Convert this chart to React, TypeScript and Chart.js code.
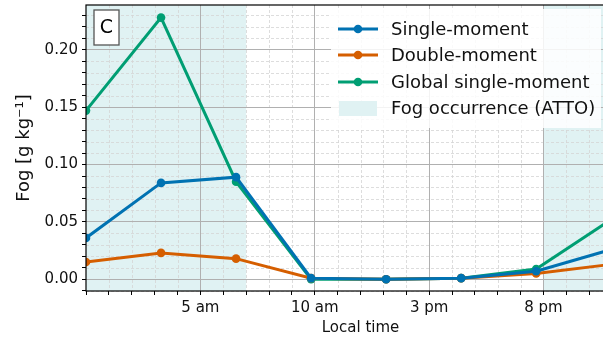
import React, { useEffect, useRef } from 'react';
import { Chart, registerables } from 'chart.js';

Chart.register(...registerables);

// ---- data ----
const hours = [0, 3.28, 6.56, 9.84, 13.12, 16.4, 19.68, 22.96];
const singleMoment = [0.036, 0.084, 0.089, 0.001, 0.0, 0.001, 0.007, 0.026];
const doubleMoment = [0.015, 0.023, 0.018, 0.001, 0.0, 0.001, 0.005, 0.013];
const globalSingleMoment = [0.147, 0.228, 0.085, 0.0, 0.0, 0.001, 0.009, 0.052];
const fogStart = [0, 20];
const fogEnd = [7, 24];
const xTickValues = [5, 10, 15, 20];
const xTickLabels = ['5 am', '10 am', '3 pm', '8 pm'];
const seriesNames = ['Single-moment', 'Double-moment', 'Global single-moment'];
const fogName = 'Fog occurrence (ATTO)';
const panelLabel = 'C';

const COLORS = ['#0072B2', '#D55E00', '#009E73'];
const FOG_COLOR = 'rgb(224, 242, 243)';
const FONT = '"DejaVu Sans", sans-serif';

const decorPlugin = {
  id: 'decor',
  beforeDraw(chart: any) {
    const { ctx, chartArea: a, scales } = chart;
    const x = scales.x;
    const y = scales.y;
    ctx.save();
    ctx.fillStyle = '#ffffff';
    ctx.fillRect(0, 0, chart.width, chart.height);
    // fog shading
    ctx.fillStyle = FOG_COLOR;
    for (let i = 0; i < fogStart.length; i++) {
      const x0 = Math.max(a.left, x.getPixelForValue(fogStart[i]));
      const x1 = Math.min(a.right, x.getPixelForValue(fogEnd[i]));
      ctx.fillRect(x0, a.top, x1 - x0, a.bottom - a.top);
    }
    // minor dashed grid
    ctx.strokeStyle = '#d4d4d4';
    ctx.lineWidth = 0.8;
    ctx.setLineDash([3, 2]);
    x.ticks.forEach((t: any) => {
      if (Math.abs(t.value % 5) > 1e-6) {
        const px = Math.round(x.getPixelForValue(t.value)) + 0.5;
        ctx.beginPath();
        ctx.moveTo(px, a.top);
        ctx.lineTo(px, a.bottom);
        ctx.stroke();
      }
    });
    y.ticks.forEach((t: any) => {
      const r = t.value / 0.05;
      if (Math.abs(r - Math.round(r)) > 1e-6) {
        const py = Math.round(y.getPixelForValue(t.value)) + 0.5;
        ctx.beginPath();
        ctx.moveTo(a.left, py);
        ctx.lineTo(a.right, py);
        ctx.stroke();
      }
    });
    ctx.restore();
  },
  afterDatasetsDraw(chart: any) {
    const { ctx, chartArea: a } = chart;
    ctx.save();
    // spines
    ctx.strokeStyle = '#000';
    ctx.lineWidth = 1.2;
    ctx.strokeRect(a.left, a.top, a.right - a.left, a.bottom - a.top);

    // panel label box
    ctx.fillStyle = '#ffffff';
    ctx.fillRect(a.left + 8, a.top + 5, 25, 35);
    ctx.strokeStyle = '#555';
    ctx.lineWidth = 1.3;
    ctx.strokeRect(a.left + 8, a.top + 5, 25, 35);
    ctx.fillStyle = '#000';
    ctx.font = `19px ${FONT}`;
    ctx.textAlign = 'center';
    ctx.textBaseline = 'middle';
    ctx.fillText(panelLabel, a.left + 20.5, a.top + 23);

    // legend
    const lx = 331;
    const ly = a.top + 4;
    const lw = 270;
    const lh = 119;
    ctx.fillStyle = 'rgba(255,255,255,0.85)';
    ctx.fillRect(lx, ly, lw, lh);
    const rows = [29, 55, 82, 108];
    ctx.font = `18px ${FONT}`;
    ctx.textAlign = 'left';
    ctx.textBaseline = 'middle';
    for (let i = 0; i < seriesNames.length; i++) {
      const ry = rows[i];
      ctx.strokeStyle = COLORS[i];
      ctx.lineWidth = 3;
      ctx.beginPath();
      ctx.moveTo(338, ry);
      ctx.lineTo(378, ry);
      ctx.stroke();
      ctx.fillStyle = COLORS[i];
      ctx.beginPath();
      ctx.arc(358, ry, 4.3, 0, Math.PI * 2);
      ctx.fill();
      ctx.fillStyle = '#111';
      ctx.fillText(seriesNames[i], 391, ry + 1);
    }
    ctx.fillStyle = FOG_COLOR;
    ctx.fillRect(339, rows[3] - 7, 38, 15);
    ctx.fillStyle = '#111';
    ctx.fillText(fogName, 391, rows[3] + 1);
    ctx.restore();
  },
};

export default function App() {
  const ref = useRef<HTMLCanvasElement | null>(null);

  useEffect(() => {
    const canvas = ref.current;
    if (!canvas) return;
    const series = [singleMoment, doubleMoment, globalSingleMoment];
    const chart = new Chart(canvas, {
      type: 'line',
      data: {
        datasets: series.map((vals, i) => ({
          label: seriesNames[i],
          data: hours.map((h, j) => ({ x: h, y: vals[j] })),
          borderColor: COLORS[i],
          backgroundColor: COLORS[i],
          borderWidth: 3,
          pointRadius: 4.3,
          pointBorderWidth: 0,
          pointHoverRadius: 4.3,
          tension: 0,
          clip: 0,
        })),
      },
      options: {
        animation: false,
        responsive: false,
        maintainAspectRatio: false,
        events: [],
        layout: { padding: { top: 5, right: 5, left: 0, bottom: 0 } },
        plugins: {
          legend: { display: false },
          tooltip: { enabled: false },
        },
        scales: {
          x: {
            type: 'linear',
            min: 0,
            max: 24,
            afterFit: (s: any) => {
              s.height = 47;
              s.paddingLeft = 0;
              s.paddingRight = 0;
            },
            ticks: {
              stepSize: 1,
              autoSkip: false,
              maxRotation: 0,
              includeBounds: false,
              padding: 4,
              color: '#111',
              font: { family: FONT, size: 15 },
              callback: (v: any) => {
                const idx = xTickValues.indexOf(Math.round(Number(v)));
                return idx >= 0 && Math.abs(Number(v) - xTickValues[idx]) < 1e-6 ? xTickLabels[idx] : '';
              },
            },
            grid: {
              color: (c: any) => {
                const v = c.tick ? c.tick.value : 0;
                return v > 0 && Math.abs(v % 5) < 1e-6 ? '#b0b0b0' : 'rgba(0,0,0,0)';
              },
              lineWidth: 1,
              tickColor: '#000',
              tickLength: 4,
              tickWidth: 1,
            },
            border: { display: false },
            title: {
              display: true,
              text: 'Local time',
              color: '#111',
              font: { family: FONT, size: 15 },
              padding: { top: 0, bottom: 1 },
            },
          },
          y: {
            type: 'linear',
            min: -0.0102,
            max: 0.239,
            afterFit: (s: any) => {
              s.width = 86;
              s.paddingTop = 0;
              s.paddingBottom = 0;
            },
            ticks: {
              stepSize: 0.01,
              autoSkip: false,
              includeBounds: false,
              padding: 4,
              color: '#111',
              font: { family: FONT, size: 15 },
              callback: (v: any) => {
                const r = Number(v) / 0.05;
                return Math.abs(r - Math.round(r)) < 1e-6 ? Number(v).toFixed(2) : '';
              },
            },
            grid: {
              color: (c: any) => {
                const v = c.tick ? c.tick.value : 0;
                const r = v / 0.05;
                return Math.abs(r - Math.round(r)) < 1e-6 ? '#b0b0b0' : 'rgba(0,0,0,0)';
              },
              lineWidth: 1,
              tickColor: '#000',
              tickLength: 4,
              tickWidth: 1,
            },
            border: { display: false },
            title: {
              display: true,
              text: 'Fog [g kg⁻¹]',
              color: '#111',
              font: { family: FONT, size: 18 },
              padding: { top: 14, bottom: 0 },
            },
          },
        },
      },
      plugins: [decorPlugin],
    });
    return () => chart.destroy();
  }, []);

  return (
    <div
      style={{
        position: 'absolute',
        left: 0,
        top: 0,
        width: 603,
        height: 338,
        overflow: 'hidden',
        background: '#fff',
      }}
    >
      <canvas ref={ref} width={640} height={338} style={{ display: 'block', width: 640, height: 338 }} />
    </div>
  );
}
